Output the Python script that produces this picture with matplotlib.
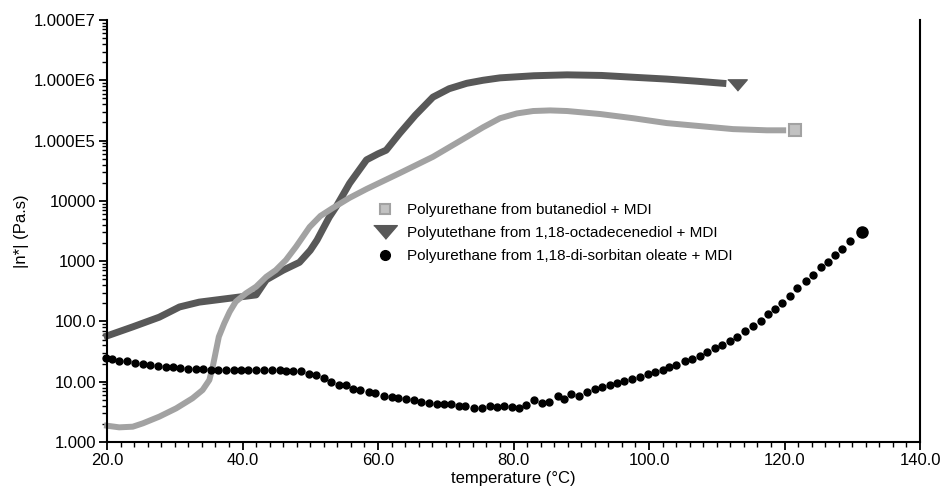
import numpy as np
import matplotlib
matplotlib.use("Agg")
import matplotlib.pyplot as plt
from matplotlib.ticker import FixedLocator, MultipleLocator, LogLocator, NullFormatter

plt.rcParams['font.family'] = ['Liberation Sans', 'DejaVu Sans']

# butanediol + MDI (light grey), log10 of |n*|
t_buta = [20.0, 21.8, 23.8, 25.3, 27.7, 30.2, 32.6, 34.1, 35.1, 35.6, 36.1, 36.5,
          37.3, 38.1, 39.0, 40.5, 42.0, 43.5, 44.9, 46.4, 47.9, 49.9, 51.5, 53.3,
          55.8, 58.3, 63.2, 68.1, 73.1, 75.5, 78.0, 80.5, 82.9, 85.4, 87.9, 92.8,
          97.7, 102.6, 107.5, 112.4, 117.4, 119.8]
log_buta = [0.27, 0.243, 0.254, 0.31, 0.42, 0.558, 0.724, 0.862, 1.028, 1.249,
            1.526, 1.746, 1.968, 2.16, 2.327, 2.466, 2.576, 2.74, 2.85, 3.018, 3.24,
            3.566, 3.75, 3.88, 4.05, 4.196, 4.46, 4.73, 5.06, 5.22, 5.37, 5.45,
            5.49, 5.50, 5.49, 5.44, 5.37, 5.29, 5.24, 5.19, 5.17, 5.17]
end_buta = (121.5, 5.17)

# 1,18-octadecenediol + MDI (dark grey)
t_octa = [20.0, 23.8, 27.7, 30.7, 33.6, 38.5, 42.0, 43.5, 46.0, 48.4, 50.0, 51.0,
          51.8, 52.8, 53.8, 55.8, 58.3, 60.0, 61.2, 63.2, 65.5, 68.1, 70.5, 73.1,
          75.5, 78.0, 83.0, 87.9, 93.0, 97.7, 102.6, 107.0, 110.9]
log_octa = [1.76, 1.91, 2.07, 2.24, 2.32, 2.39, 2.44, 2.69, 2.85, 2.98, 3.18, 3.35,
            3.52, 3.73, 3.90, 4.29, 4.68, 4.78, 4.84, 5.12, 5.42, 5.72, 5.86, 5.95,
            6.00, 6.04, 6.075, 6.09, 6.08, 6.05, 6.02, 5.985, 5.95]
end_octa = (113.0, 5.92)

# 1,18-di-sorbitan oleate + MDI (black dots)
t_sorb = [19.85, 20.74, 21.8, 22.95, 24.1, 25.26, 26.4, 27.5, 28.7, 29.8, 30.7,
          31.9, 33.1, 34.2, 35.4, 36.4, 37.6, 38.7, 39.8, 40.8, 42.0, 43.1, 44.3,
          45.5, 46.4, 47.4, 48.6, 49.8, 50.8, 52.0, 53.1, 54.2, 55.3, 56.3, 57.4,
          58.6, 59.6, 60.9, 62.0, 63.0, 64.2, 65.3, 66.4, 67.5, 68.7, 69.7, 70.7,
          71.9, 72.9, 74.2, 75.3, 76.5, 77.5, 78.6, 79.8, 80.8, 81.9, 83.0, 84.2,
          85.3, 86.5, 87.4, 88.5, 89.7, 90.8, 92.0, 93.0, 94.2, 95.3, 96.3, 97.5,
          98.6, 99.8, 100.9, 102.0, 103.0, 104.0, 105.3, 106.4, 107.5, 108.6,
          109.7, 110.8, 111.9, 113.0, 114.1, 115.4, 116.5, 117.6, 118.6, 119.7,
          120.8, 121.9, 123.1, 124.2, 125.4, 126.4, 127.5, 128.5, 129.6]
log_sorb = [1.388, 1.371, 1.349, 1.338, 1.31, 1.288, 1.277, 1.266, 1.249, 1.238,
            1.222, 1.216, 1.21, 1.205, 1.2, 1.2, 1.194, 1.194, 1.19, 1.19, 1.19,
            1.19, 1.19, 1.19, 1.177, 1.177, 1.172, 1.122, 1.111, 1.066, 0.995,
            0.95, 0.945, 0.884, 0.862, 0.834, 0.807, 0.763, 0.751, 0.735, 0.708,
            0.697, 0.668, 0.652, 0.625, 0.63, 0.625, 0.597, 0.597, 0.569, 0.569,
            0.602, 0.586, 0.597, 0.586, 0.569, 0.614, 0.697, 0.641, 0.658, 0.763,
            0.713, 0.791, 0.768, 0.824, 0.879, 0.91, 0.94, 0.978, 1.012, 1.04,
            1.083, 1.12, 1.166, 1.2, 1.244, 1.28, 1.34, 1.376, 1.426, 1.487, 1.553,
            1.609, 1.675, 1.741, 1.835, 1.924, 2.01, 2.12, 2.2, 2.31, 2.42, 2.55,
            2.665, 2.77, 2.9, 2.99, 3.106, 3.2, 3.33]
end_sorb = (131.4, 3.478)

labels = ["Polyurethane from butanediol + MDI",
          "Polyutethane from 1,18-octadecenediol + MDI",
          "Polyurethane from 1,18-di-sorbitan oleate + MDI"]
ytick_vals = [1, 10, 100, 1000, 1e4, 1e5, 1e6, 1e7]
ytick_labels = ["1.000", "10.00", "100.0", "1000", "10000", "1.000E5", "1.000E6", "1.000E7"]
xtick_vals = [20, 40, 60, 80, 100, 120, 140]
xtick_labels = ["20.0", "40.0", "60.0", "80.0", "100.0", "120.0", "140.0"]

c_light = '#a2a2a2'
c_dark = '#585858'
tri = [(-1, 0.58), (1, 0.58), (0, -0.58)]

fig = plt.figure(figsize=(9.44, 4.91), dpi=100)
ax = fig.add_axes([0.1134, 0.0998, 0.8612, 0.8595])

ax.plot(t_octa, 10 ** np.array(log_octa), color=c_dark, lw=5, clip_on=False)
ax.plot(t_buta, 10 ** np.array(log_buta), color=c_light, lw=4.3, clip_on=False)
ax.plot(t_sorb, 10 ** np.array(log_sorb), 'o', color='black', ms=5, clip_on=False)

ax.plot(end_buta[0], 10 ** end_buta[1], 's', ms=8, mfc='#c2c2c2', mec=c_light, mew=1.5)
ax.plot(end_octa[0], 10 ** end_octa[1], marker=tri, ms=14, color=c_dark, ls='none')
ax.plot(end_sorb[0], 10 ** end_sorb[1], 'o', ms=8, color='black')

h1 = ax.plot([], [], 's', ms=7, mfc='#c2c2c2', mec=c_light, mew=1.5)[0]
h2 = ax.plot([], [], marker=tri, ms=17, color=c_dark, ls='none')[0]
h3 = ax.plot([], [], 'o', ms=7, color='black')[0]
ax.legend([h1, h2, h3], labels, loc='upper left', bbox_to_anchor=(0.331, 0.566),
          frameon=False, fontsize=11, borderpad=0, borderaxespad=0,
          handlelength=1.2, handletextpad=0.85, labelspacing=0.6)

ax.set_yscale('log')
ax.set_xlim(20, 140)
ax.set_ylim(1, 1e7)
ax.yaxis.set_major_locator(FixedLocator(ytick_vals))
ax.set_yticklabels(ytick_labels)
ax.yaxis.set_minor_locator(LogLocator(base=10, subs=np.arange(2, 10)))
ax.yaxis.set_minor_formatter(NullFormatter())
ax.set_xticks(xtick_vals)
ax.set_xticklabels(xtick_labels)
ax.xaxis.set_minor_locator(MultipleLocator(2))

ax.spines['top'].set_visible(False)
for s in ['left', 'right', 'bottom']:
    ax.spines[s].set_linewidth(1.5)
ax.tick_params(which='major', direction='out', length=6, width=1.3, labelsize=12, pad=2)
ax.tick_params(which='minor', direction='out', length=3.5, width=1.0)
ax.tick_params(axis='y', which='both', right=False)

ax.set_xlabel("temperature (°C)", fontsize=12, labelpad=2)
ax.set_ylabel("|n*| (Pa.s)", fontsize=12, labelpad=4)

fig.savefig('out.png', dpi=100)
